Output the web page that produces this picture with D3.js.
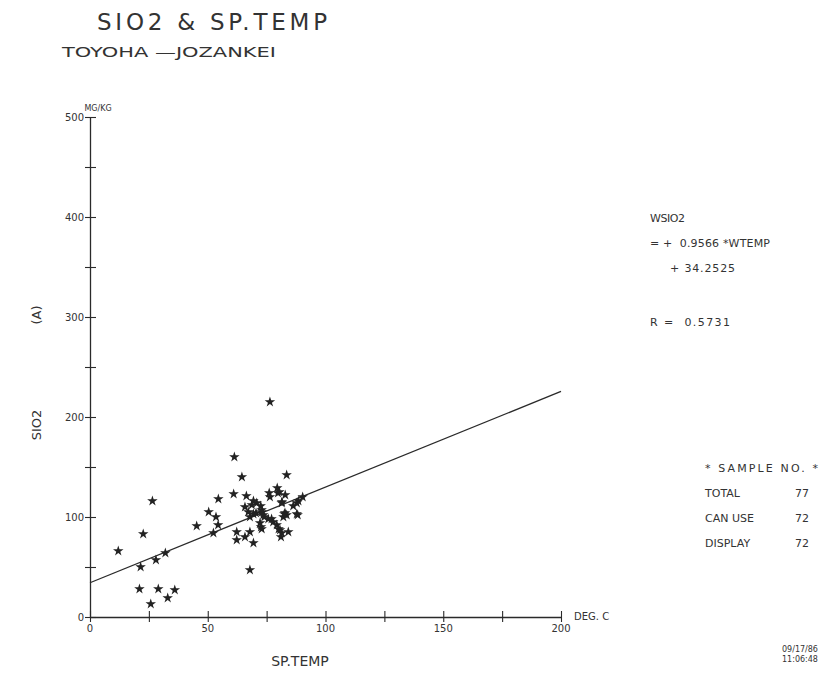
<!DOCTYPE html>
<html><head><meta charset="utf-8">
<script src="https://cdn.jsdelivr.net/npm/d3@7"></script>
<style>body{margin:0;background:#fff}svg text{font-family:"DejaVu Sans",sans-serif;fill:#333}</style>
</head><body>
<svg id="c" width="824" height="683"></svg>
<script>
const temp = [12,22.6,26.5,21.5,28,32,21,29,25.8,33,36,
 45.3,50.4,53.5,54.5,54.4,52.4,
 61.3,64.5,61,76.4,83.5,
 62.3,62.3,65.8,67.9,69.4,67.9,
 66.4,65.8,68.7,70.8,67.2,69.4,72.9,73.6,67.9,72.5,69.4,73,
 72.2,72.9,72.6,75.7,77.1,77.8,79.3,80.7,81.4,81.1,84.2,80.1,
 76.1,76.4,79.5,80.4,82.9,81.5,81.4,86.3,88.5,90.3,87.8,
 82.8,82.1,83.5,87.8,88.2,
 79.8,82.5,70.5,74];
const sio2 = [66,83,116,50,57,64,28,28,13,19,27,
 91,105,100,118,92,84,
 160,140,123,215,142,
 85,77,80,85,74,47,
 121,110,112,114,105,103,107,102,100,111,116,105,
 94,88,90,98,98,95,92,87,84,80,85,88,
 124,120,129,125,122,115,114,111,116,120,114,
 104,100,102,103,102,
 124,103,104,100];
const slope = 0.9566, intercept = 34.2525, rValue = 0.5731;
const xTicks = [0,25,50,75,100,125,150,175,200];
const xLabels = [0,50,100,150,200];
const yTicks = [0,50,100,150,200,250,300,350,400,450,500];
const yLabels = [0,100,200,300,400,500];
const eqLines = ["WSIO2","= +  0.9566 *WTEMP","+ 34.2525"];
const legendRows = [["TOTAL","77"],["CAN USE","72"],["DISPLAY","72"]];

const svg = d3.select("#c");
const x = d3.scaleLinear().domain([0,200]).range([90,561]);
const y = d3.scaleLinear().domain([0,500]).range([617,117]);
const ink = "#2a2a2a";

function txt(xp, yp, s, size, len, adj){
  const t = svg.append("text").attr("x",xp).attr("y",yp).attr("font-size",size)
    .attr("xml:space","preserve").text(s);
  if (len) t.attr("textLength",len).attr("lengthAdjust",adj || "spacing");
  return t;
}

// titles
txt(97,30,"SIO2 & SP.TEMP",23,230);
txt(62,57,"TOYOHA —JOZANKEI",14,214,"spacingAndGlyphs");

// axes
const xAxis = d3.axisBottom(x).tickValues(xTicks).tickSize(0).tickFormat("");
const gx = svg.append("g").attr("transform",`translate(0,${y(0)})`).call(xAxis);
const yAxis = d3.axisLeft(y).tickValues(yTicks).tickSize(0).tickFormat("");
const gy = svg.append("g").attr("transform",`translate(${x(0)},0)`).call(yAxis);
[gx,gy].forEach(g=>g.select(".domain").attr("stroke",ink).attr("stroke-width",1.3));
gx.selectAll(".tick line").attr("y1",-6).attr("y2",5).attr("stroke",ink).attr("stroke-width",1.1);
gy.selectAll(".tick line").attr("x1",-5).attr("x2",6).attr("stroke",ink).attr("stroke-width",1.1);

svg.selectAll(".xl").data(xLabels).join("text").attr("class","xl")
  .attr("x",d=>x(d)).attr("y",y(0)+15).attr("text-anchor","middle").attr("font-size",10).text(d=>d);
svg.selectAll(".yl").data(yLabels).join("text").attr("class","yl")
  .attr("x",x(0)-6).attr("y",d=>y(d)+4).attr("text-anchor","end").attr("font-size",10).text(d=>d);
svg.append("text").attr("x",x(0)+8).attr("y",y(500)-6).attr("text-anchor","middle").attr("font-size",8).text("MG/KG");
svg.append("text").attr("x",x(200)+13).attr("y",y(0)+3).attr("font-size",10).text("DEG. C");

// axis titles
svg.append("text").attr("x",300).attr("y",666).attr("text-anchor","middle").attr("font-size",14).text("SP.TEMP");
svg.append("text").attr("transform","translate(41,425) rotate(-90)").attr("text-anchor","middle").attr("font-size",13).text("SIO2");
svg.append("text").attr("transform","translate(41,315) rotate(-90)").attr("text-anchor","middle").attr("font-size",13).text("(A)");

// regression line
svg.append("line").attr("x1",x(0)).attr("y1",y(intercept)).attr("x2",x(200)).attr("y2",y(slope*200+intercept))
  .attr("stroke",ink).attr("stroke-width",1.3);

// points
const star = d3.symbol().type(d3.symbolStar).size(34);
svg.selectAll(".pt").data(temp.map((t,i)=>[t,sio2[i]])).join("path").attr("class","pt")
  .attr("d",star).attr("transform",d=>`translate(${x(d[0])},${y(d[1])})`).attr("fill","#222");

// equation
txt(650,222,eqLines[0],11,35);
txt(650,247,eqLines[1],11,120);
txt(670,272,eqLines[2],11,65);
txt(650,326,"R =  " + rValue.toFixed(4),11,80);

// legend
txt(705,472,"* SAMPLE NO. *",11,113);
legendRows.forEach((r,i)=>{
  txt(705,497+i*25,r[0],11);
  txt(795,497+i*25,r[1],11);
});

// date
svg.append("text").attr("x",800).attr("y",652).attr("text-anchor","middle").attr("font-size",8).text("09/17/86");
svg.append("text").attr("x",800).attr("y",662).attr("text-anchor","middle").attr("font-size",8).text("11:06:48");
</script>
</body></html>
